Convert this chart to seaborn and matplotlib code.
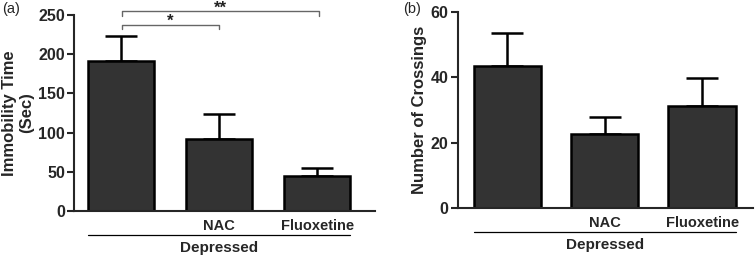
import matplotlib
matplotlib.use("Agg")
import matplotlib.pyplot as plt
import seaborn as sns
import pandas as pd
import numpy as np

# ---- data ----
groups = ["Control", "NAC", "Fluoxetine"]
tick_labels = ["", "NAC", "Fluoxetine"]
immobility_mean = [191, 92, 44.5]
immobility_sem = [32, 32, 10.5]
crossings_mean = [43.4, 22.6, 31.1]
crossings_sem = [10.2, 5.2, 8.6]
group_label = "Depressed"
ylabel_a = "Immobility Time\n(Sec)"
ylabel_b = "Number of Crossings"
yticks_a = [0, 50, 100, 150, 200, 250]
yticks_b = [0, 20, 40, 60]

sns.set_style("ticks")
plt.rcParams["font.family"] = ["Liberation Sans", "DejaVu Sans"]
plt.rcParams["font.weight"] = "bold"
plt.rcParams["axes.linewidth"] = 1.5

W, H = 755, 258
fig = plt.figure(figsize=(W / 100, H / 100), dpi=100)
ax_a = fig.add_axes([74 / W, 47 / H, 301 / W, 196 / H])
ax_b = fig.add_axes([457.7 / W, 50 / H, 295 / W, 196 / H])

bar_color = "#333333"


def draw_panel(ax, means, sems, ylabel, yticks, xlim, width):
    df = pd.DataFrame({"group": groups, "value": means})
    sns.barplot(data=df, x="group", y="value", order=groups, color=bar_color,
                saturation=1, width=width, edgecolor="black", linewidth=1.8,
                errorbar=None, ax=ax, zorder=2)
    x = np.arange(len(groups))
    ax.errorbar(x, means, yerr=[np.zeros(len(sems)), sems], fmt="none",
                ecolor="black", elinewidth=1.8, capsize=11.5, capthick=1.8,
                zorder=1)
    ax.set_xlim(*xlim)
    ax.set_ylim(yticks[0], yticks[-1])
    ax.set_yticks(yticks)
    ax.set_yticklabels([str(t) for t in yticks], fontsize=11.5, fontweight="bold")
    ax.set_xticks(x)
    ax.set_xticklabels(tick_labels, fontsize=10.5, fontweight="bold")
    ax.tick_params(axis="x", length=0, pad=6)
    ax.tick_params(axis="y", length=5, width=1.5, pad=1.5)
    ax.set_xlabel("")
    ax.set_ylabel(ylabel, fontsize=12, fontweight="bold", labelpad=3,
                  linespacing=1.2)
    sns.despine(ax=ax)
    # group line and label
    trans = ax.get_xaxis_transform()
    ax.plot([x[0] - width / 2, x[-1] + width / 2], [-0.12, -0.12],
            transform=trans, color="black", lw=0.9, clip_on=False)
    ax.text((x[0] + x[-1]) / 2, -0.19, group_label, transform=trans,
            ha="center", va="center", fontsize=11, fontweight="bold")


draw_panel(ax_a, immobility_mean, immobility_sem, ylabel_a, yticks_a,
           (-0.48, 2.59), 0.673)
draw_panel(ax_b, crossings_mean, crossings_sem, ylabel_b, yticks_b,
           (-0.51, 2.52), 0.69)

# significance brackets (panel a)
br_color = "#666666"
def bracket(ax, x1, x2, y, drop, label, ty):
    ax.plot([x1, x1, x2, x2], [y - drop, y, y, y - drop], color=br_color,
            lw=1.0, clip_on=False)
    ax.text((x1 + x2) / 2, ty, label, ha="center", va="center",
            fontsize=12, fontweight="bold", color="#222222", clip_on=False)

bracket(ax_a, 0.01, 1.0, 237, 5, "*", 242)
bracket(ax_a, 0.01, 2.02, 255, 6, "**", 259)

fig.text(2 / W, 1 - 2 / H, "(a)", ha="left", va="top", fontsize=10.5,
         fontweight="normal")
fig.text(403 / W, 1 - 2 / H, "(b)", ha="left", va="top", fontsize=10.5,
         fontweight="normal")

fig.savefig("out.png", dpi=100)
